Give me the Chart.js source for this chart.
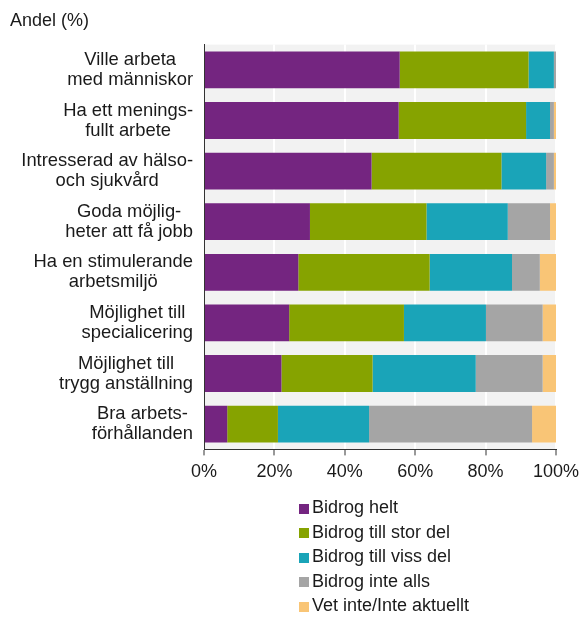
<!DOCTYPE html>
<html>
<head>
<meta charset="utf-8">
<script src="https://cdn.jsdelivr.net/npm/chart.js@4"></script>
<style>
  html, body { margin: 0; padding: 0; background: #fff; }
  #wrap { position: relative; width: 580px; height: 617px; }
  #legend {
    position: absolute; left: 299px; top: 495px;
    font: 18px "Liberation Sans", Arial, sans-serif; color: #1a1a1a;
  }
  .item { height: 24.5px; line-height: 24.5px; white-space: nowrap; }
  .box { display: inline-block; width: 10px; height: 10px; margin-right: 3px; vertical-align: -0.5px; }
</style>
</head>
<body>
<div id="wrap">
  <canvas id="chart" width="580" height="617"></canvas>
  <div id="legend"></div>
</div>
<script>
const categories = [
  ["Ville arbeta", "med människor"],
  ["Ha ett menings-", "fullt arbete"],
  ["Intresserad av hälso-", "och sjukvård"],
  ["Goda möjlig-", "heter att få jobb"],
  ["Ha en stimulerande", "arbetsmiljö"],
  ["Möjlighet till", "specialicering"],
  ["Möjlighet till", "trygg anställning"],
  ["Bra arbets-", "förhållanden"]
];

const seriesNames = ["Bidrog helt", "Bidrog till stor del", "Bidrog till viss del", "Bidrog inte alls", "Vet inte/Inte aktuellt"];
const seriesColors = ["#742580", "#86a300", "#1aa4b8", "#a5a5a5", "#f9c576"];

const bidrogHelt     = [55.6, 55.3, 47.6, 30.1, 26.8, 24.2, 22.0, 6.6];
const bidrogStorDel  = [36.6, 36.2, 36.9, 33.1, 37.3, 32.6, 25.9, 14.4];
const bidrogVissDel  = [7.2, 6.8, 12.7, 23.1, 23.4, 23.3, 29.3, 25.9];
const bidrogInteAlls = [0.6, 1.1, 2.2, 12.0, 7.9, 16.1, 19.0, 46.3];
const vetInte        = [0.0, 0.6, 0.6, 1.7, 4.6, 3.8, 3.8, 6.8];

const xTicks = [0, 20, 40, 60, 80, 100];

const FONT = "\"Liberation Sans\", Arial, sans-serif";
const TEXT = "#1a1a1a";

// grey plot background behind the white gridlines
const plotBackground = {
  id: "plotBackground",
  beforeDraw(chart) {
    const { ctx, chartArea: a } = chart;
    ctx.save();
    ctx.fillStyle = "#f2f2f2";
    ctx.fillRect(a.left, a.top, a.right - a.left, a.bottom - a.top);
    ctx.restore();
  }
};

// two-line category labels, lines centred on each other, block right-aligned
const categoryLabels = {
  id: "categoryLabels",
  afterDraw(chart) {
    const { ctx } = chart;
    const y = chart.scales.y;
    const right = y.right - 11;
    ctx.save();
    ctx.font = "18.4px " + FONT;
    ctx.fillStyle = TEXT;
    ctx.textAlign = "center";
    ctx.textBaseline = "middle";
    categories.forEach((lines, i) => {
      const w = Math.max(...lines.map(l => ctx.measureText(l).width));
      const cx = right - w / 2;
      const cy = y.getPixelForValue(i);
      lines.forEach((line, j) => {
        ctx.fillText(line, cx, cy + (j - (lines.length - 1) / 2) * 20);
      });
    });
    ctx.restore();
  }
};

const seriesData = [bidrogHelt, bidrogStorDel, bidrogVissDel, bidrogInteAlls, vetInte];

const ctx = document.getElementById("chart").getContext("2d");
new Chart(ctx, {
  type: "bar",
  data: {
    labels: categories.map(c => c.join(" ")),
    datasets: seriesNames.map((name, i) => ({
      label: name,
      data: seriesData[i],
      backgroundColor: seriesColors[i],
      borderWidth: 0,
      barPercentage: 0.727,
      categoryPercentage: 1
    }))
  },
  options: {
    indexAxis: "y",
    responsive: false,
    animation: false,
    layout: { padding: { left: 10, right: 0, top: 0, bottom: 128 } },
    plugins: {
      legend: { display: false },
      tooltip: { enabled: false },
      title: {
        display: true,
        text: "Andel (%)",
        align: "start",
        color: TEXT,
        font: { family: FONT, size: 18, weight: "normal" },
        padding: { top: 10, bottom: 13 }
      }
    },
    scales: {
      x: {
        stacked: true,
        min: 0,
        max: 100,
        afterBuildTicks(scale) {
          scale.ticks = xTicks.map(v => ({ value: v }));
        },
        afterFit(scale) { scale.paddingRight = 24; },
        ticks: {
          color: TEXT,
          padding: 6,
          font: { family: FONT, size: 18 },
          callback: v => v + "%"
        },
        grid: {
          color: "#ffffff",
          lineWidth: 2,
          tickColor: "#333333",
          tickWidth: 1,
          tickLength: 6
        },
        border: { display: true, color: "#333333", width: 1 }
      },
      y: {
        stacked: true,
        afterFit(scale) { scale.width = 194; },
        ticks: { display: false },
        grid: { display: false },
        border: { display: true, color: "#333333", width: 1 }
      }
    }
  },
  plugins: [plotBackground, categoryLabels]
});

// legend stacked one item per row under the chart
const legend = document.getElementById("legend");
seriesNames.forEach((name, i) => {
  const row = document.createElement("div");
  row.className = "item";
  const box = document.createElement("span");
  box.className = "box";
  box.style.background = seriesColors[i];
  row.appendChild(box);
  row.appendChild(document.createTextNode(name));
  legend.appendChild(row);
});
</script>
</body>
</html>
